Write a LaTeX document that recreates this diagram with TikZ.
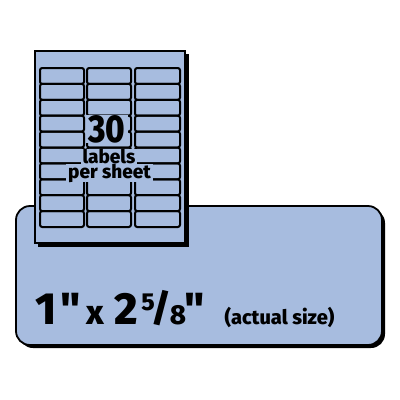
\documentclass[tikz,border=0pt]{standalone}
\usepackage{fontspec}
\newfontfamily\hb{Fira Sans ExtraBold}
\definecolor{lblue}{HTML}{A7BCDF}
\tikzset{
  cell/.style={draw=black, line width=2pt, rounded corners=2.2pt},
  mask/.style={fill=lblue, inner xsep=2pt, inner ysep=0pt, anchor=base},
  big/.style={anchor=base, inner sep=0pt},
}
\newcommand{\fs}[1]{\hb\fontsize{#1}{#1}\selectfont}
\begin{document}
\begin{tikzpicture}[x=1pt,y=-1pt]
\useasboundingbox (0,0) rectangle (400,400);
% big label
\fill[black, rounded corners=14pt] (19,209) rectangle (385,348);
\filldraw[fill=lblue, draw=black, line width=1.8pt, rounded corners=14pt] (16,206) rectangle (382,345);
% sheet
\fill[black] (38,54) rectangle (189,247);
\filldraw[fill=lblue, draw=black, line width=2.2pt] (35,51) rectangle (185,243);
% label cells
\foreach \cx/\cw in {40/44, 87/44, 135/45}
  \foreach \r in {0,...,9}
    \draw[cell] (\cx, 68+15.9*\r) rectangle ++(\cw,15.9);
% sheet texts
\node[mask, font=\fs{39}] (n30) at (107,142) {\scalebox{0.85}[1]{30}};
\node[mask, font=\fs{19}] (nlab) at (109,163.5) {labels};
\node[mask, font=\fs{19}] (nper) at (109.5,178) {per sheet};
% size text
\node[big, font=\fs{45}] (one) at (46.5,324) {1};
\node[big, font=\fs{45}] (q1) at (70.5,324) {"};
\node[big, font=\fs{34}] (x) at (95.5,324) {x};
\node[big, font=\fs{45}] (two) at (126.5,324) {2};
\node[big, font=\fs{24.5}] (five) at (148,310) {5};
\node[big, font=\fs{38}] (sl) at (161,321) {/};
\node[big, font=\fs{27.5}] (eight) at (178,324) {8};
\node[big, font=\fs{45}] (q2) at (195,324) {"};
\node[big, font=\fs{20}] (act) at (279.5,324) {(actual size)};
\end{tikzpicture}
\end{document}
